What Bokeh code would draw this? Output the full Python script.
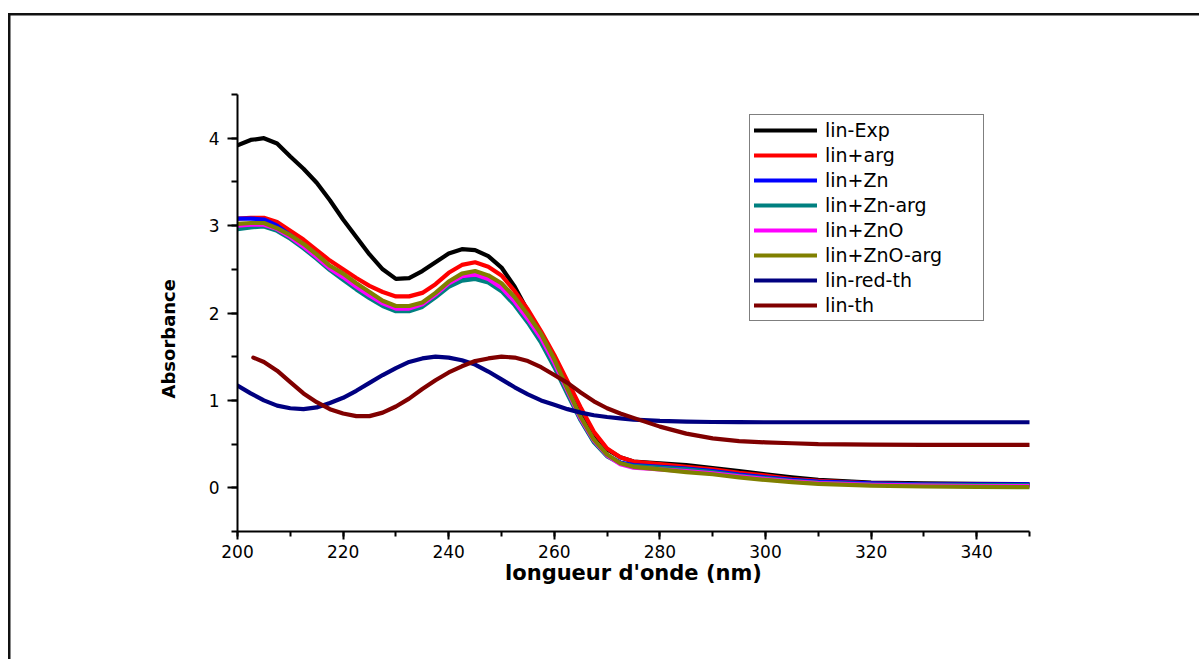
from bokeh.plotting import figure
from bokeh.models import Range1d, SingleIntervalTicker, Title
from bokeh.embed import file_html
from bokeh.resources import INLINE

# ---------------- data ----------------
wl = [200, 202.5, 205, 207.5, 210, 212.5, 215, 217.5, 220, 222.5, 225, 227.5, 230, 232.5,
      235, 237.5, 240, 242.5, 245, 247.5, 250, 252.5, 255, 257.5, 260, 262.5, 265, 267.5,
      270, 272.5, 275, 280, 285, 290, 295, 300, 305, 310, 320, 330, 340, 350]

lin_exp = [3.92, 3.98, 4.00, 3.94, 3.79, 3.65, 3.49, 3.29, 3.07, 2.87, 2.67, 2.50, 2.39, 2.40,
           2.48, 2.58, 2.68, 2.73, 2.72, 2.65, 2.52, 2.30, 2.02, 1.75, 1.47, 1.18, 0.89, 0.62,
           0.44, 0.35, 0.30, 0.28, 0.26, 0.225, 0.19, 0.155, 0.12, 0.09, 0.06, 0.05, 0.045, 0.04]
lin_arg = [3.08, 3.09, 3.09, 3.04, 2.94, 2.84, 2.72, 2.60, 2.50, 2.40, 2.31, 2.24, 2.19, 2.19,
           2.23, 2.33, 2.46, 2.55, 2.58, 2.53, 2.43, 2.25, 2.04, 1.79, 1.52, 1.22, 0.92, 0.64,
           0.45, 0.35, 0.30, 0.27, 0.24, 0.21, 0.17, 0.14, 0.10, 0.08, 0.05, 0.04, 0.035, 0.03]
lin_zn = [3.08, 3.08, 3.07, 3.00, 2.89, 2.77, 2.64, 2.51, 2.40, 2.29, 2.19, 2.10, 2.04, 2.04,
          2.09, 2.20, 2.32, 2.40, 2.42, 2.37, 2.27, 2.11, 1.91, 1.68, 1.40, 1.09, 0.78, 0.53,
          0.37, 0.29, 0.26, 0.24, 0.22, 0.19, 0.15, 0.12, 0.09, 0.07, 0.05, 0.04, 0.04, 0.04]
lin_zn_arg = [2.96, 2.98, 2.99, 2.94, 2.85, 2.74, 2.62, 2.49, 2.38, 2.27, 2.17, 2.08, 2.02, 2.02,
              2.07, 2.18, 2.30, 2.37, 2.39, 2.35, 2.25, 2.09, 1.89, 1.66, 1.38, 1.07, 0.77, 0.52,
              0.36, 0.28, 0.25, 0.23, 0.21, 0.18, 0.14, 0.11, 0.08, 0.06, 0.04, 0.035, 0.03, 0.03]
lin_zno = [3.00, 3.01, 3.01, 2.96, 2.87, 2.76, 2.64, 2.51, 2.41, 2.30, 2.20, 2.11, 2.05, 2.05,
           2.10, 2.21, 2.34, 2.42, 2.44, 2.39, 2.29, 2.13, 1.93, 1.71, 1.43, 1.11, 0.79, 0.54,
           0.37, 0.27, 0.23, 0.21, 0.19, 0.165, 0.13, 0.10, 0.075, 0.055, 0.035, 0.025, 0.02, 0.02]
lin_zno_arg = [3.02, 3.03, 3.03, 2.97, 2.89, 2.79, 2.67, 2.54, 2.45, 2.34, 2.24, 2.14, 2.08, 2.08,
               2.12, 2.23, 2.36, 2.45, 2.48, 2.43, 2.34, 2.18, 1.98, 1.76, 1.47, 1.13, 0.81, 0.55,
               0.38, 0.28, 0.24, 0.21, 0.18, 0.155, 0.12, 0.09, 0.065, 0.045, 0.025, 0.015, 0.01, 0.008]
lin_red_th = [1.17, 1.08, 1.00, 0.94, 0.91, 0.90, 0.92, 0.97, 1.03, 1.11, 1.20, 1.29, 1.37, 1.44,
              1.48, 1.50, 1.49, 1.46, 1.41, 1.33, 1.24, 1.15, 1.07, 1.00, 0.95, 0.90, 0.86, 0.83,
              0.81, 0.795, 0.78, 0.765, 0.757, 0.753, 0.751, 0.75, 0.75, 0.75, 0.75, 0.75, 0.75, 0.75]

wl_th = [203, 205, 207.5, 210, 212.5, 215, 217.5, 220, 222.5, 225, 227.5, 230, 232.5,
         235, 237.5, 240, 242.5, 245, 247.5, 250, 252.5, 255, 257.5, 260, 262.5, 265, 267.5,
         270, 272.5, 275, 280, 285, 290, 295, 300, 305, 310, 320, 330, 340, 350]
lin_th = [1.49, 1.44, 1.34, 1.21, 1.08, 0.98, 0.90, 0.85, 0.82, 0.82, 0.86, 0.93, 1.02,
          1.13, 1.23, 1.32, 1.39, 1.45, 1.48, 1.50, 1.49, 1.45, 1.38, 1.29, 1.20, 1.09, 0.99,
          0.91, 0.85, 0.80, 0.70, 0.62, 0.565, 0.535, 0.52, 0.51, 0.50, 0.495, 0.49, 0.49, 0.49]

series_names = ["lin-Exp", "lin+arg", "lin+Zn", "lin+Zn-arg", "lin+ZnO", "lin+ZnO-arg",
                "lin-red-th", "lin-th"]
series_colors = ["#000000", "#FF0000", "#0000FF", "#008080", "#FF00FF", "#808000",
                 "#000080", "#800000"]
series_x = [wl, wl, wl, wl, wl, wl, wl, wl_th]
series_y = [lin_exp, lin_arg, lin_zn, lin_zn_arg, lin_zno, lin_zno_arg, lin_red_th, lin_th]

x_label = "longueur d'onde (nm)"
y_label = "Absorbance"

# ---------------- figure ----------------
p = figure(width=1199, height=659, output_backend="svg", toolbar_location=None,
           x_range=Range1d(200, 350), y_range=Range1d(-0.5, 4.5),
           min_border_left=237, min_border_right=170, min_border_top=94, min_border_bottom=128)
p.grid.visible = False
p.outline_line_color = None
p.background_fill_color = "white"
p.border_fill_color = None
# page frame: left and top edges, drawn as a CSS background behind the transparent border
p.styles = {
    "background-color": "white",
    "background-image": "linear-gradient(#111111, #111111), linear-gradient(#111111, #111111)",
    "background-size": "2.5px 100%, 100% 2.5px",
    "background-position": "8px 13px, 8px 13px",
    "background-repeat": "no-repeat",
}

for xs, ys, name, col in zip(series_x, series_y, series_names, series_colors):
    p.line(xs, ys, line_color=col, line_width=4.2, line_join="round", line_cap="round",
           legend_label=name)

FONT = "DejaVu Sans"

xa = p.xaxis[0]
xa.ticker = SingleIntervalTicker(interval=20, num_minor_ticks=2)
ya = p.yaxis[0]
ya.ticker = SingleIntervalTicker(interval=1, num_minor_ticks=2)
for ax in (xa, ya):
    ax.axis_line_width = 2
    ax.axis_line_color = "black"
    ax.major_tick_line_width = 2
    ax.minor_tick_line_width = 2
    ax.major_tick_line_color = "black"
    ax.minor_tick_line_color = "black"
    ax.major_tick_in = 0
    ax.minor_tick_in = 0
    ax.major_label_text_font = FONT
    ax.major_label_text_font_size = "17px"
    ax.major_label_text_color = "black"
xa.major_tick_out = 8
xa.minor_tick_out = 5
xa.major_label_standoff = 5
ya.major_tick_out = 10
ya.minor_tick_out = 6
ya.major_label_standoff = 8

xa.axis_label = x_label
xa.axis_label_text_font = FONT
xa.axis_label_text_font_style = "bold"
xa.axis_label_text_font_size = "21px"
xa.axis_label_text_color = "black"
xa.axis_label_standoff = 0

# y-axis title, placed a little below the frame centre as in the reference
p.add_layout(Title(text=y_label, align="left", offset=133, standoff=54,
                   text_font=FONT, text_font_style="bold", text_font_size="18px",
                   text_color="black"), "left")

lg = p.legend[0]
lg.location = (512, 210)
lg.border_line_color = "black"
lg.border_line_width = 1.2
lg.background_fill_color = "white"
lg.background_fill_alpha = 1
lg.label_text_font = FONT
lg.label_text_font_size = "19px"
lg.label_text_color = "black"
lg.glyph_width = 63
lg.glyph_height = 20
lg.label_height = 20
lg.spacing = 3
lg.padding = 4
lg.margin = 0
lg.label_standoff = 8
lg.label_width = 154

open("out.html", "w").write(file_html(p, INLINE))
